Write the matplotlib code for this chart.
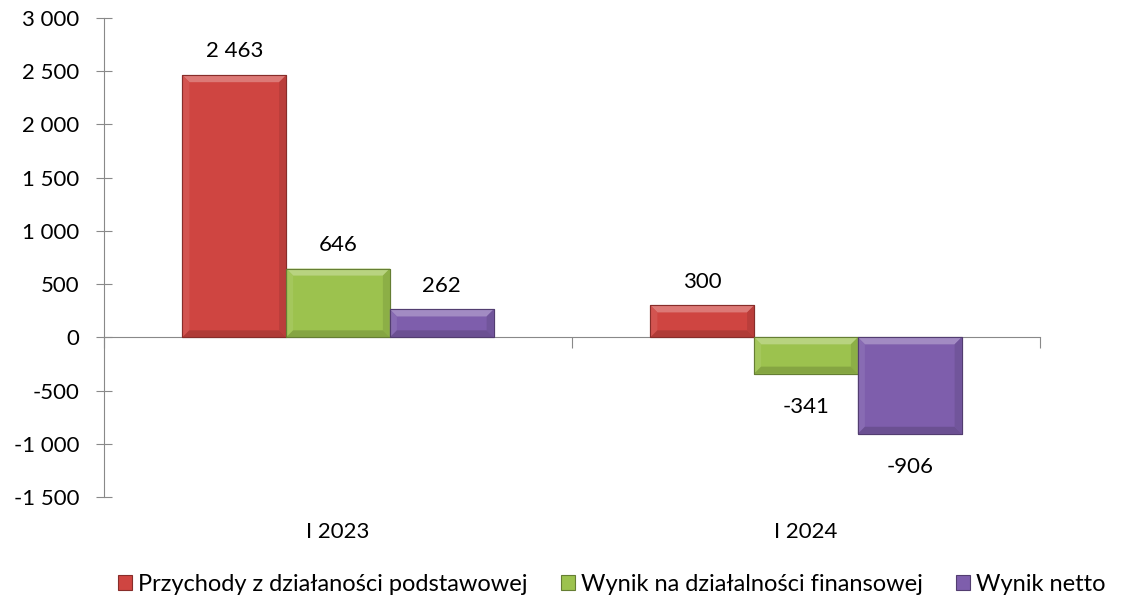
import matplotlib
matplotlib.use('Agg')
import matplotlib.pyplot as plt
from matplotlib.patches import Polygon, Patch
from matplotlib.ticker import FuncFormatter, FixedLocator
import matplotlib.transforms as mtransforms
import matplotlib.colors as mcolors
import numpy as np

plt.rcParams['font.family'] = ['Lato', 'DejaVu Sans']

# data
categories = ['I 2023', 'I 2024']
series_names = ['Przychody z działaności podstawowej',
                'Wynik na działalności finansowej',
                'Wynik netto']
przychody = [2463, 300]
wynik_fin = [646, -341]
wynik_netto = [262, -906]
yticks = [-1500, -1000, -500, 0, 500, 1000, 1500, 2000, 2500, 3000]

colors = ['#CF4541', '#9CC24E', '#7E5EAC']
series = [przychody, wynik_fin, wynik_netto]

fig = plt.figure(figsize=(11.27, 6.09), dpi=100)
ax = fig.add_axes([0.0923, 0.1839, 0.8305, 0.7865])

bw = 0.2217
x = np.arange(len(categories))
ax.set_xlim(-0.5, 1.5)
ax.set_ylim(-1500, 3000)

def shade(c, f):
    r, g, b = mcolors.to_rgb(c)
    if f > 0:
        return (r + (1 - r) * f, g + (1 - g) * f, b + (1 - b) * f)
    return (r * (1 + f), g * (1 + f), b * (1 + f))

# pixel size of the bevel converted to data units
px_x = ax.bbox.width / 2.0
px_y = ax.bbox.height / 4500.0
bev = 7
dx = bev / px_x
dy = bev / px_y

fs = 16

for i, (vals, col) in enumerate(zip(series, colors)):
    pos = x + (i - 1) * bw
    bars = ax.bar(pos, vals, bw, color=col, edgecolor=shade(col, -0.35),
                  linewidth=0.8, zorder=3)
    for b, v in zip(bars, vals):
        x0 = b.get_x()
        x1 = x0 + b.get_width()
        y0 = min(0, v)
        y1 = max(0, v)
        ddy = min(dy, (y1 - y0) / 2)
        top = Polygon([(x0, y1), (x1, y1), (x1 - dx, y1 - ddy), (x0 + dx, y1 - ddy)],
                      closed=True, facecolor=shade(col, 0.28), edgecolor='none', zorder=4)
        left = Polygon([(x0, y0), (x0, y1), (x0 + dx, y1 - ddy), (x0 + dx, y0 + ddy)],
                       closed=True, facecolor=shade(col, 0.08), edgecolor='none', zorder=4)
        right = Polygon([(x1, y0), (x1, y1), (x1 - dx, y1 - ddy), (x1 - dx, y0 + ddy)],
                        closed=True, facecolor=shade(col, -0.1), edgecolor='none', zorder=4)
        bot = Polygon([(x0, y0), (x1, y0), (x1 - dx, y0 + ddy), (x0 + dx, y0 + ddy)],
                      closed=True, facecolor=shade(col, -0.15), edgecolor='none', zorder=4)
        for p in (top, left, right, bot):
            ax.add_patch(p)
        # outline again on top
        ax.add_patch(Polygon([(x0, y0), (x1, y0), (x1, y1), (x0, y1)], closed=True,
                             facecolor='none', edgecolor=shade(col, -0.35),
                             linewidth=0.8, zorder=5))
        lab = f'{v:,}'.replace(',', ' ')
        if v >= 0:
            ax.annotate(lab, (b.get_x() + b.get_width() / 2, v), xytext=(0, 10),
                        textcoords='offset points', ha='center', va='bottom',
                        fontsize=fs)
        else:
            ax.annotate(lab, (b.get_x() + b.get_width() / 2, v), xytext=(0, -17),
                        textcoords='offset points', ha='center', va='top',
                        fontsize=fs)

axis_col = '#898989'
for s in ['top', 'right']:
    ax.spines[s].set_visible(False)
ax.spines['bottom'].set_position(('data', 0))
ax.spines['bottom'].set_color(axis_col)
ax.spines['left'].set_color(axis_col)
ax.spines['bottom'].set_zorder(2)

ax.yaxis.set_major_locator(FixedLocator(yticks))
ax.yaxis.set_major_formatter(FuncFormatter(lambda v, p: f'{int(v):,}'.replace(',', ' ')))
ax.tick_params(axis='y', direction='inout', length=12, color=axis_col,
               labelsize=fs, pad=12)
ax.xaxis.set_major_locator(FixedLocator([-0.5, 0.5, 1.5]))
ax.xaxis.set_major_formatter(FuncFormatter(lambda v, p: ''))
ax.tick_params(axis='x', direction='out', length=8, color=axis_col)

trans = mtransforms.blended_transform_factory(ax.transData, ax.transAxes)
for xi, c in zip(x, categories):
    ax.text(xi, -0.073, c, transform=trans, ha='center', va='center', fontsize=fs)

handles = [Patch(facecolor=c, edgecolor=shade(c, -0.35), linewidth=0.8) for c in colors]
fig.legend(handles, series_names, loc='center', bbox_to_anchor=(0.5426, 0.04),
           ncol=3, frameon=False, fontsize=17, handlelength=0.6, handleheight=0.6,
           handletextpad=0.25, columnspacing=1.4)

fig.savefig('out.png', dpi=100)
